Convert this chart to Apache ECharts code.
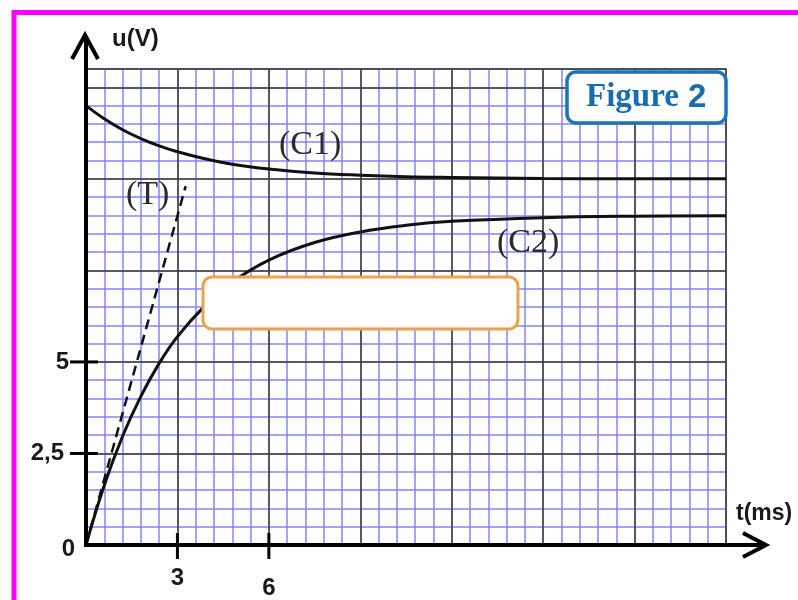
<!DOCTYPE html>
<html>
<head>
<meta charset="utf-8">
<script src="https://cdn.jsdelivr.net/npm/echarts@6/dist/echarts.min.js"></script>
<style>
  html, body { margin: 0; padding: 0; background: #ffffff; }
  #chart { width: 798px; height: 600px; }
</style>
</head>
<body>
<div id="chart"></div>
<script>
// Time samples (ms) and the two recorded voltages (V)
const timeMs  = [0, 0.6, 1.2, 1.8, 2.4, 3, 3.9, 4.8, 6, 7.5, 9, 10.5, 12, 15, 18, 21];
const c1Volts = [12.0, 11.64, 11.34, 11.1, 10.9, 10.74, 10.55, 10.4, 10.27, 10.16, 10.1, 10.06, 10.04, 10.01, 10.0, 10.0];
const c2Volts = [0, 1.63, 2.97, 4.06, 4.96, 5.69, 6.53, 7.18, 7.78, 8.26, 8.55, 8.73, 8.84, 8.94, 8.98, 8.99];

// Tangent (T) to curve C2 at the origin
const tangentT = [0, 3.27];
const tangentU = [0, 9.8];

// Graduated values on each axis
const yTickValues = [0, 2.5, 5];
const xTickValues = [3, 6];

const X_MAX = 21, Y_MAX = 13;

const pairs = (xs, ys) => xs.map((x, i) => [x, ys[i]]);

const chart = echarts.init(document.getElementById('chart'), null, { renderer: 'canvas' });

const minorLine = { color: '#8383ff', width: 1.5 };
const majorLine = { color: '#3c3c3c', width: 1.5 };
const tickFont = { fontFamily: 'Liberation Sans', fontWeight: 'bold', fontSize: 24, color: '#1a1a1a' };
const serifLabel = { fontFamily: 'Liberation Serif', fontSize: 34, fill: '#2b2b2b' };

chart.setOption({
  animation: false,
  backgroundColor: '#ffffff',
  grid: {
    left: 86, top: 69, width: 640, height: 477,
    show: true, borderColor: '#3c3c3c', borderWidth: 1.5, backgroundColor: 'transparent'
  },
  xAxis: [
    { // fine graduation, 0.6 ms
      type: 'value', min: 0, max: X_MAX, interval: 0.6, z: 1, position: 'bottom',
      axisLine: { show: false }, axisTick: { show: false }, axisLabel: { show: false },
      splitLine: { show: true, lineStyle: minorLine }
    },
    { // main graduation, 3 ms
      type: 'value', min: 0, max: X_MAX, interval: 3, z: 2, position: 'bottom', offset: 0,
      axisLine: { show: false }, axisTick: { show: false },
      splitLine: { show: true, lineStyle: majorLine },
      axisLabel: {
        show: true, margin: 21, ...tickFont,
        customValues: xTickValues,
        formatter: v => v === 6 ? '{low|6}' : String(v),
        rich: { low: { ...tickFont, padding: [10, 0, 0, 0] } }
      }
    }
  ],
  yAxis: [
    { // fine graduation, 0.5 V
      type: 'value', min: 0, max: Y_MAX, interval: 0.5, z: 1, position: 'left',
      axisLine: { show: false }, axisTick: { show: false }, axisLabel: { show: false },
      splitLine: { show: true, lineStyle: minorLine }
    },
    { // main graduation, 2.5 V
      type: 'value', min: 0, max: Y_MAX, interval: 2.5, z: 2, position: 'left', offset: 0,
      axisLine: { show: false }, axisTick: { show: false },
      splitLine: { show: true, lineStyle: majorLine },
      axisLabel: {
        show: true, margin: 11, ...tickFont,
        customValues: yTickValues,
        formatter: v => {
          if (v === 0) return '{zero|0}';
          if (v === 5) return '{five|5}';
          return '{other|' + String(v).replace('.', ',') + '}';
        },
        rich: {
          zero: { ...tickFont, padding: [8, 0, 0, 0] },
          five: { ...tickFont, padding: [0, 6, 0, 0] },
          other: { ...tickFont, padding: [0, 11, 0, 0] }
        }
      }
    }
  ],
  series: [
    {
      name: 'C1', type: 'line', xAxisIndex: 1, yAxisIndex: 1, z: 5,
      data: pairs(timeMs, c1Volts), smooth: 0.4, showSymbol: false,
      lineStyle: { color: '#111111', width: 3 }
    },
    {
      name: 'C2', type: 'line', xAxisIndex: 1, yAxisIndex: 1, z: 5,
      data: pairs(timeMs, c2Volts), smooth: 0.4, showSymbol: false,
      lineStyle: { color: '#111111', width: 3 }
    },
    {
      name: 'T', type: 'line', xAxisIndex: 1, yAxisIndex: 1, z: 5,
      data: pairs(tangentT, tangentU), showSymbol: false,
      lineStyle: { color: '#111111', width: 2.5, type: [10, 6] }
    }
  ]
});

// Axes with open arrow heads, graduation ticks, and annotations
const px = (t, u) => chart.convertToPixel({ xAxisIndex: 1, yAxisIndex: 1 }, [t, u]);
const origin = px(0, 0);
const yTop = px(0, Y_MAX);
const xEnd = px(X_MAX, 0);
const axisStyle = { stroke: '#000000', lineWidth: 4, lineCap: 'butt', lineJoin: 'miter' };

const yArrowTip = [origin[0] - 1, yTop[1] - 34];
const xArrowTip = [xEnd[0] + 40, origin[1]];

const graphics = [
  // page frame
  { type: 'rect', z: 1, shape: { x: 14, y: 12.5, width: 820, height: 620 },
    style: { fill: 'none', stroke: '#ff00ff', lineWidth: 5 } },
  // vertical axis
  { type: 'polyline', z: 20, shape: { points: [[origin[0], origin[1] + 2], [origin[0], yArrowTip[1] + 2]] }, style: axisStyle },
  { type: 'polyline', z: 20, shape: { points: [[yArrowTip[0] - 13, yArrowTip[1] + 24], yArrowTip, [yArrowTip[0] + 13, yArrowTip[1] + 24]] },
    style: axisStyle },
  // horizontal axis
  { type: 'polyline', z: 20, shape: { points: [[origin[0] - 2, origin[1]], [xArrowTip[0] - 2, origin[1]]] }, style: axisStyle },
  { type: 'polyline', z: 20, shape: { points: [[xArrowTip[0] - 23, xArrowTip[1] - 12], xArrowTip, [xArrowTip[0] - 23, xArrowTip[1] + 12]] },
    style: axisStyle },
  // axis names
  { type: 'text', z: 20, left: origin[0] + 26, top: yTop[1] - 42,
    style: { text: 'u(V)', fontFamily: 'Liberation Sans', fontWeight: 'bold', fontSize: 24, fill: '#1a1a1a' } },
  { type: 'text', z: 20, left: xEnd[0] + 10, top: origin[1] - 43,
    style: { text: 't(ms)', fontFamily: 'Liberation Sans', fontWeight: 'bold', fontSize: 23, fill: '#1a1a1a' } },
  // curve names
  { type: 'text', z: 20, left: 279, top: 128, style: { text: '(C1)', ...serifLabel } },
  { type: 'text', z: 20, left: 126, top: 178, style: { text: '(T)', ...serifLabel } },
  { type: 'text', z: 20, left: 497, top: 226, style: { text: '(C2)', ...serifLabel } },
  // blank answer box
  { type: 'rect', z: 30, shape: { x: 203, y: 277, width: 315, height: 52, r: 9 },
    style: { fill: '#ffffff', stroke: '#f0a04b', lineWidth: 3 } },
  // figure tag
  { type: 'rect', z: 30, shape: { x: 567, y: 72, width: 159, height: 51, r: 9 },
    style: { fill: '#ffffff', stroke: '#1b73b8', lineWidth: 3.5 } },
  { type: 'text', z: 31, left: 586, top: 81,
    style: {
      text: '{f|Figure}{n| 2}',
      rich: {
        f: { fontFamily: 'Liberation Serif', fontWeight: 'bold', fontSize: 33, fill: '#1a6cb0' },
        n: { fontFamily: 'Liberation Sans', fontWeight: 'bold', fontSize: 33, fill: '#1a6cb0' }
      }
    } }
];

// graduation ticks crossing the axes
yTickValues.filter(v => v > 0).forEach(v => {
  const p = px(0, v);
  graphics.push({ type: 'line', z: 20, shape: { x1: p[0] - 16, y1: p[1], x2: p[0] + 12, y2: p[1] },
    style: { stroke: '#000000', lineWidth: 3 } });
});
xTickValues.forEach(v => {
  const p = px(v, 0);
  graphics.push({ type: 'line', z: 20, shape: { x1: p[0], y1: p[1] - 12, x2: p[0], y2: p[1] + 14 },
    style: { stroke: '#000000', lineWidth: 3 } });
});

chart.setOption({ graphic: graphics });
</script>
</body>
</html>
